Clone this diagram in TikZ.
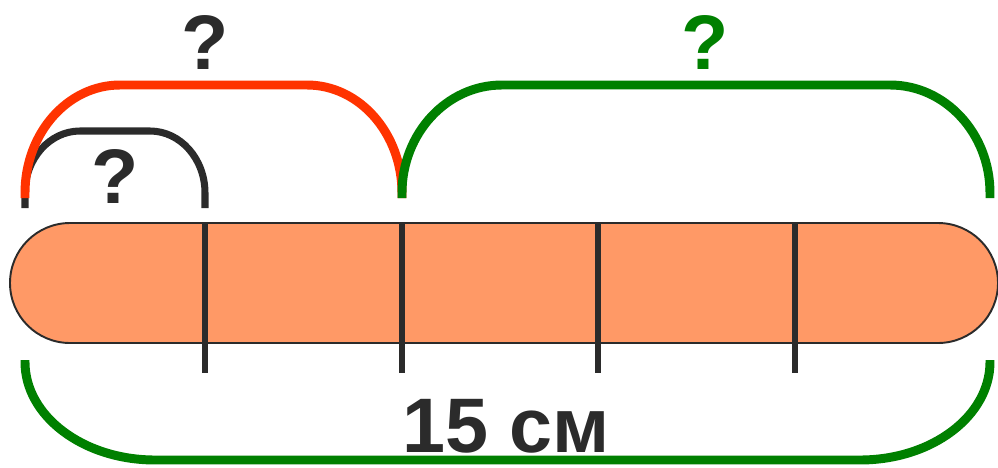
\documentclass[tikz,border=0pt]{standalone}
\usepackage{fontspec}
\setmainfont{Liberation Sans}
\usepackage{xcolor}
\usepackage{tikz}
\usetikzlibrary{positioning, calc}
\definecolor{rojoarco}{RGB}{255, 51, 0}
\definecolor{verdearco}{RGB}{0, 128, 0}
\definecolor{naranjabarra}{RGB}{255, 153, 102}
\definecolor{grisoscuro}{RGB}{43, 43, 43}
\tikzset{
  arco/.style={line width=5.1pt},
  marca/.style={line width=3.4pt, color=grisoscuro},
  rotulo/.style={font=\fontsize{44}{44}\selectfont\bfseries, inner sep=0pt, text=grisoscuro}
}
% llave: estilo, x izq, x der, y extremos, y cima, radio x, radio y
\newcommand{\llave}[7]{%
  \draw[#1] (#2,#4) -- (#2,{#5+#7}) .. controls (#2,{#5+0.448*#7}) and ({#2+0.448*#6},#5) .. ({#2+#6},#5)
    -- ({#3-#6},#5) .. controls ({#3-0.448*#6},#5) and (#3,{#5+0.448*#7}) .. (#3,{#5+#7}) -- (#3,#4);}

\begin{document}
\begin{tikzpicture}[x=0.02cm, y=-0.02cm]
  \useasboundingbox (0,0) rectangle (998,467);
  % barra
  \draw[line width=1.1pt, draw=grisoscuro, fill=naranjabarra] (70,223) -- (938,223) arc[start angle=-90, end angle=90, radius=60] -- (70,343) arc[start angle=90, end angle=270, radius=60] -- cycle;
  \foreach \x in {205,402,598,795} { \draw[marca] (\x,223) -- (\x,373); }
  % llaves de arriba
  \llave{line width=4pt, color=grisoscuro}{25}{205}{208}{131}{55}{62}
  \llave{arco, color=rojoarco}{25}{402}{198}{85}{95}{108}
  \llave{arco, color=verdearco}{402}{990}{198}{85}{100}{108}
  % llave de abajo
  \llave{arco, color=verdearco}{25}{990}{360}{460}{130}{-98}
  \node[rotulo] (pregunta1) at (205,43) {?};
  \node[rotulo, text=verdearco] (pregunta2) at (705,43) {?};
  \node[rotulo] (pregunta3) at (115,177) {?};
  \node[rotulo] (total) at (506,426) {15 см};
\end{tikzpicture}
\end{document}
